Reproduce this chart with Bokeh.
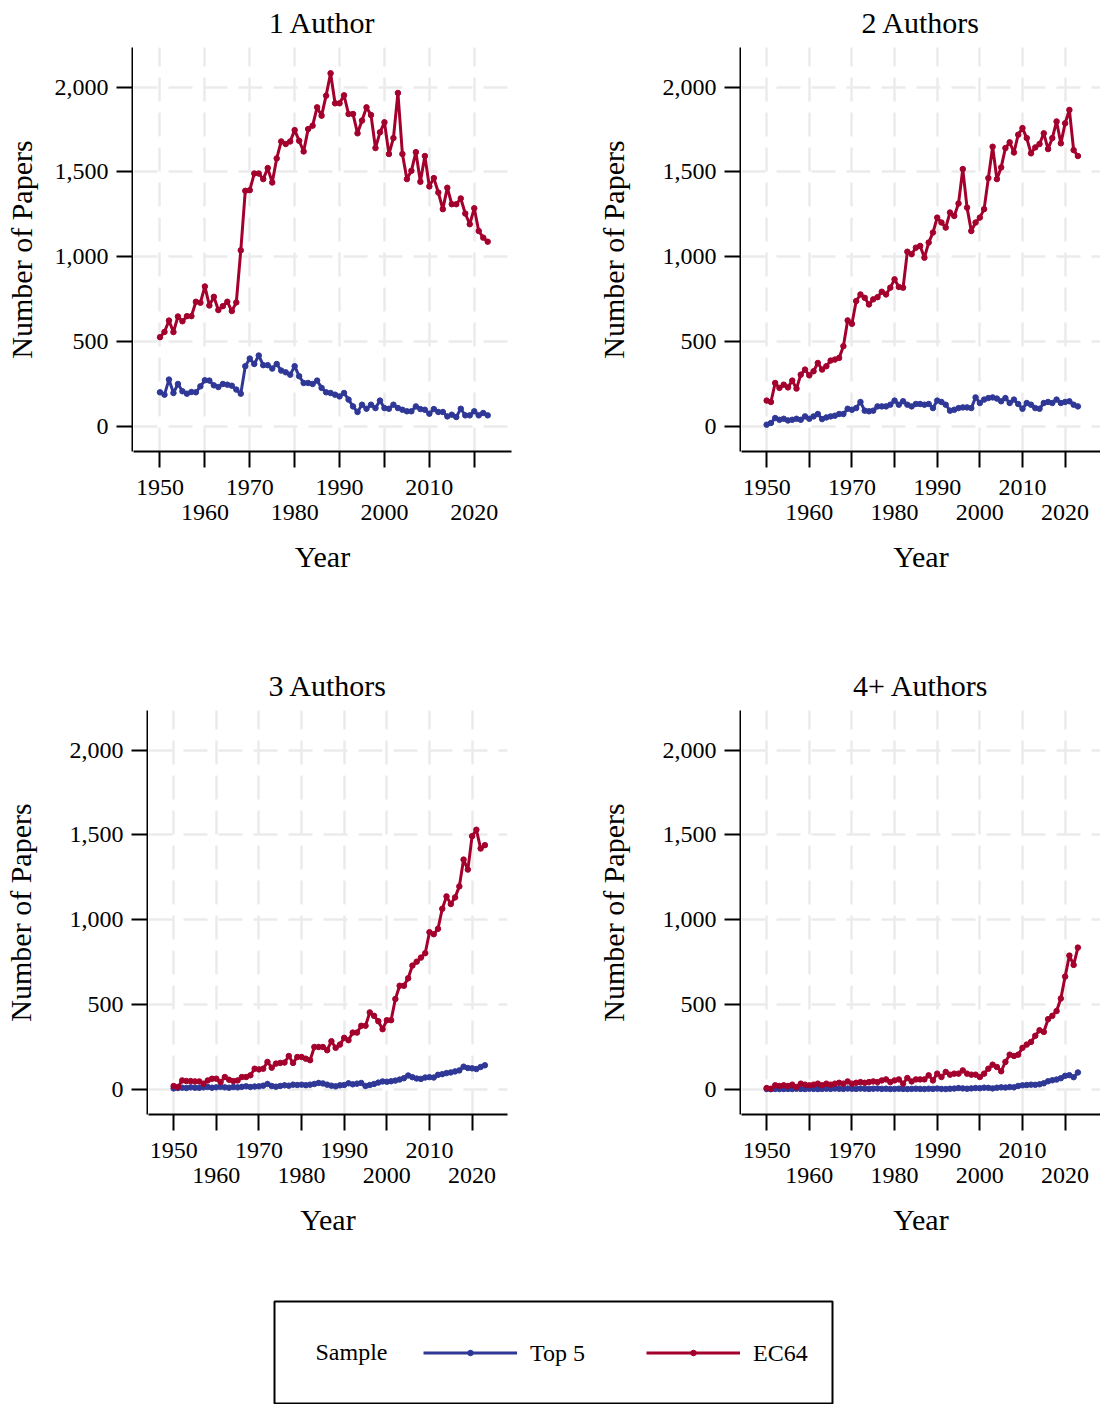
from bokeh.plotting import figure
from bokeh.models import (Range1d, FixedTicker, NumeralTickFormatter, LinearAxis, Grid,
                          Legend, LegendItem, Label, ColumnDataSource)
from bokeh.layouts import column, row
from bokeh.embed import file_html
from bokeh.resources import INLINE

years = list(range(1950, 2024))

top5_1 = [201, 187, 276, 197, 250, 207, 193, 203, 201, 236,
          272, 270, 242, 232, 250, 246, 240, 217, 193, 355,
          400, 368, 418, 361, 361, 341, 368, 329, 319, 305,
          355, 296, 256, 256, 250, 270, 227, 201, 197, 187,
          177, 197, 158, 118, 85, 128, 104, 128, 108, 152,
          108, 104, 128, 108, 98, 89, 89, 118, 102, 98,
          75, 102, 85, 85, 59, 69, 55, 104, 65, 65,
          89, 65, 79, 65]
ec64_1 = [526, 557, 624, 556, 648, 620, 650, 650, 735, 729,
          825, 713, 764, 686, 709, 735, 680, 731, 1038, 1389,
          1393, 1491, 1491, 1458, 1523, 1438, 1580, 1680, 1665, 1680,
          1747, 1684, 1621, 1753, 1773, 1881, 1832, 1950, 2082, 1905,
          1905, 1952, 1842, 1842, 1728, 1803, 1881, 1836, 1641, 1734,
          1793, 1606, 1700, 1966, 1606, 1458, 1507, 1617, 1442, 1594,
          1415, 1464, 1379, 1281, 1407, 1310, 1310, 1344, 1255, 1192,
          1286, 1152, 1113, 1089]

top5_2 = [10, 20, 49, 39, 45, 35, 39, 45, 39, 59,
          45, 59, 73, 43, 53, 59, 63, 73, 73, 104,
          98, 108, 144, 93, 89, 93, 118, 118, 118, 128,
          152, 128, 148, 128, 118, 132, 132, 128, 132, 108,
          152, 144, 128, 93, 98, 108, 112, 112, 108, 171,
          138, 158, 167, 171, 164, 148, 167, 138, 158, 132,
          104, 138, 128, 108, 104, 138, 144, 138, 158, 138,
          144, 148, 128, 118]
ec64_2 = [152, 144, 256, 227, 246, 230, 270, 223, 305, 335,
          301, 325, 374, 335, 355, 388, 394, 404, 473, 625,
          605, 739, 778, 758, 719, 749, 762, 794, 778, 818,
          867, 822, 818, 1030, 1015, 1054, 1064, 995, 1084, 1143,
          1231, 1202, 1172, 1261, 1241, 1314, 1517, 1290, 1152, 1202,
          1231, 1281, 1464, 1649, 1458, 1527, 1641, 1675, 1615, 1720,
          1759, 1700, 1610, 1645, 1665, 1728, 1635, 1700, 1798, 1669,
          1787, 1866, 1629, 1594]

top5_3 = [6, 8, 10, 8, 12, 10, 9, 12, 14, 10,
          12, 15, 12, 10, 14, 12, 15, 18, 14, 17,
          18, 22, 32, 20, 16, 20, 24, 22, 28, 26,
          28, 25, 28, 32, 38, 35, 28, 22, 18, 24,
          26, 36, 30, 34, 38, 20, 26, 32, 40, 47,
          45, 48, 52, 58, 66, 82, 72, 64, 62, 70,
          72, 70, 86, 90, 96, 100, 106, 112, 134, 126,
          124, 120, 132, 142]
ec64_3 = [20, 14, 53, 49, 49, 47, 47, 34, 53, 63,
          63, 43, 73, 57, 49, 53, 73, 73, 83, 122,
          118, 122, 162, 128, 152, 156, 158, 197, 156, 191,
          191, 181, 172, 250, 250, 250, 231, 284, 245, 264,
          304, 290, 335, 335, 375, 375, 454, 434, 402, 355,
          408, 408, 533, 611, 611, 655, 730, 753, 777, 803,
          927, 915, 947, 1065, 1138, 1093, 1132, 1197, 1355, 1296,
          1493, 1531, 1420, 1440]

top5_4 = [2, 1, 3, 2, 2, 3, 2, 4, 3, 2,
          4, 3, 2, 3, 4, 3, 5, 4, 3, 5,
          4, 3, 5, 4, 3, 4, 5, 3, 4, 2,
          3, 4, 3, 2, 3, 4, 3, 2, 4, 3,
          5, 3, 2, 4, 5, 8, 6, 4, 6, 8,
          7, 10, 9, 6, 10, 12, 11, 14, 12, 20,
          24, 26, 28, 27, 30, 36, 48, 54, 58, 66,
          80, 84, 72, 100]
ec64_4 = [8, 4, 24, 20, 24, 20, 28, 14, 34, 28,
          24, 28, 34, 24, 34, 28, 34, 39, 34, 47,
          34, 39, 43, 39, 43, 47, 43, 53, 59, 43,
          53, 59, 34, 67, 47, 59, 59, 59, 83, 53,
          93, 73, 103, 87, 93, 93, 112, 93, 87, 87,
          73, 93, 122, 146, 132, 107, 162, 205, 197, 205,
          245, 264, 280, 316, 349, 339, 414, 434, 462, 536,
          665, 789, 734, 836]

titles = ["1 Author", "2 Authors", "3 Authors", "4+ Authors"]
series_labels = ["Top 5", "EC64"]
legend_title = "Sample"
y_title = "Number of Papers"
x_title = "Year"
x_ticks_row1 = [1950, 1970, 1990, 2010]
x_ticks_row2 = [1960, 1980, 2000, 2020]
y_ticks = [0, 500, 1000, 1500, 2000]

FONT = "Liberation Serif"
BLUE = "#2F3896"
RED = "#A4002D"
GRID = "#EBEBEB"

X_LO, X_HI = 1944.1, 2028.3
Y_LO, Y_HI = -148, 2234          # visible axis extent
PLOT_H = 404                      # pixel height of the axis region
TOP_PAD = 47                      # room above it for the panel title
UNIT_PX = PLOT_H / (Y_HI - Y_LO)
Y_TOP = Y_HI + TOP_PAD / UNIT_PX  # main frame extends up to the figure top
TITLE_Y = Y_HI + 25 / UNIT_PX


def no_frame_align(fig):
    try:
        fig.frame_align = False
    except Exception:
        pass


def y_axis_strip(frame_left, height, ylab_standoff):
    """Narrow figure carrying only the y axis (so its title centres on the axis)."""
    s = figure(width=frame_left + 1, height=height,
               x_range=Range1d(0, 1), y_range=Range1d(Y_LO, Y_HI),
               output_backend="svg", toolbar_location=None, x_axis_location=None,
               min_border_left=frame_left, min_border_right=0,
               min_border_top=TOP_PAD, min_border_bottom=height - TOP_PAD - PLOT_H)
    no_frame_align(s)
    s.outline_line_color = None
    s.grid.visible = False
    ya = s.yaxis[0]
    ya.ticker = FixedTicker(ticks=y_ticks)
    ya.formatter = NumeralTickFormatter(format="0,0")
    ya.minor_tick_line_color = None
    ya.major_tick_out = 16
    ya.major_tick_in = 0
    ya.major_tick_line_width = 2
    ya.axis_line_width = 2
    ya.major_label_text_font = FONT
    ya.major_label_text_font_size = "24px"
    ya.major_label_standoff = 8
    ya.major_label_text_color = "black"
    ya.axis_label = y_title
    ya.axis_label_text_font = FONT
    ya.axis_label_text_font_size = "30px"
    ya.axis_label_text_font_style = "normal"
    ya.axis_label_text_color = "black"
    ya.axis_label_standoff = ylab_standoff
    return s


def main_panel(title, top5, ec64, width, height, right):
    p = figure(width=width, height=height,
               x_range=Range1d(X_LO, X_HI), y_range=Range1d(Y_LO, Y_TOP),
               output_backend="svg", toolbar_location=None, y_axis_location=None,
               min_border_left=0, min_border_right=right,
               min_border_top=0, min_border_bottom=height - TOP_PAD - PLOT_H)
    no_frame_align(p)
    p.outline_line_color = None
    p.background_fill_color = "white"
    p.border_fill_color = "white"

    p.add_layout(Label(x=(X_LO + X_HI) / 2, y=TITLE_Y,
                       text=title, text_font=FONT, text_font_size="30px",
                       text_align="center", text_baseline="middle", text_color="black"))

    # x axis (first row of labels, ticks at every decade)
    xa = p.xaxis[0]
    xa.ticker = FixedTicker(ticks=sorted(x_ticks_row1 + x_ticks_row2))
    xa.major_label_overrides = {t: "" for t in x_ticks_row2}
    xa.minor_tick_line_color = None
    xa.major_tick_out = 16
    xa.major_tick_in = 0
    xa.major_tick_line_width = 2
    xa.axis_line_width = 2
    xa.major_label_text_font = FONT
    xa.major_label_text_font_size = "24px"
    xa.major_label_standoff = 12
    xa.major_label_text_color = "black"

    # second row of staggered labels + axis title
    xa2 = LinearAxis(ticker=FixedTicker(ticks=x_ticks_row2),
                     axis_line_color=None, major_tick_line_color=None,
                     minor_tick_line_color=None, major_tick_out=0, major_tick_in=0,
                     major_label_standoff=7,
                     major_label_text_font=FONT, major_label_text_font_size="24px",
                     major_label_text_color="black",
                     axis_label=x_title, axis_label_text_font=FONT,
                     axis_label_text_font_size="30px", axis_label_text_font_style="normal",
                     axis_label_text_color="black", axis_label_standoff=17)
    p.add_layout(xa2, "below")

    # grids
    p.ygrid.visible = False
    xg = p.xgrid[0]
    xg.grid_line_color = GRID
    xg.grid_line_width = 2.5
    xg.grid_line_dash = "24 11"
    try:
        xg.cross_bounds = (Y_LO, Y_HI)
    except Exception:
        pass
    yg = Grid(dimension=1, ticker=FixedTicker(ticks=y_ticks),
              grid_line_color=GRID, grid_line_width=2.5, grid_line_dash="24 11")
    p.add_layout(yg)

    src = ColumnDataSource(dict(year=years, top5=top5, ec64=ec64))
    p.line("year", "top5", source=src, line_color=BLUE, line_width=3)
    p.scatter("year", "top5", source=src, size=5.5, fill_color=BLUE, line_color=BLUE)
    p.line("year", "ec64", source=src, line_color=RED, line_width=3)
    p.scatter("year", "ec64", source=src, size=5.5, fill_color=RED, line_color=RED)
    return p


def panel(title, top5, ec64, height, frame_left, right, ylab_standoff):
    strip = y_axis_strip(frame_left - 1, height, ylab_standoff)
    main = main_panel(title, top5, ec64, 550 - frame_left, height, right)
    return column(strip), column(main)


s1, m1 = panel(titles[0], top5_1, ec64_1, 663, 133, 39, 14)
s2, m2 = panel(titles[1], top5_2, ec64_2, 663, 191, 0, 30)
s3, m3 = panel(titles[2], top5_3, ec64_3, 627, 148, 43, 30)
s4, m4 = panel(titles[3], top5_4, ec64_4, 627, 191, 0, 30)

# legend panel: series drawn off-range so only their legend glyphs show
pl = figure(width=1100, height=114, x_range=Range1d(0, 558), y_range=Range1d(0, 103),
            output_backend="svg", toolbar_location=None,
            x_axis_location=None, y_axis_location=None,
            min_border_left=274, min_border_right=268,
            min_border_top=11, min_border_bottom=0)
no_frame_align(pl)
pl.grid.visible = False
pl.outline_line_color = "black"
pl.outline_line_width = 2
leg_src = ColumnDataSource(dict(year=years, top5=top5_1, ec64=ec64_1))
lb = pl.line("year", "top5", source=leg_src, line_color=BLUE, line_width=3)
sb = pl.scatter("year", "top5", source=leg_src, size=5.5, fill_color=BLUE, line_color=BLUE)
lr = pl.line("year", "ec64", source=leg_src, line_color=RED, line_width=3)
sr = pl.scatter("year", "ec64", source=leg_src, size=5.5, fill_color=RED, line_color=RED)
legend = Legend(items=[LegendItem(label=series_labels[0], renderers=[lb, sb]),
                       LegendItem(label=series_labels[1], renderers=[lr, sr])],
                orientation="horizontal", location="left", margin=149,
                padding=0, spacing=61, glyph_width=94, glyph_height=14,
                label_standoff=13, label_text_font=FONT, label_text_font_size="24px",
                label_text_color="black",
                border_line_color=None, background_fill_alpha=0)
pl.add_layout(legend)
pl.add_layout(Label(x=41, y=53, text=legend_title, text_font=FONT,
                    text_font_size="24px", text_baseline="middle", text_color="black"))

layout = column(row(s1, m1, s2, m2), row(s3, m3, s4, m4), pl)
open("out.html", "w").write(file_html(layout, INLINE))
